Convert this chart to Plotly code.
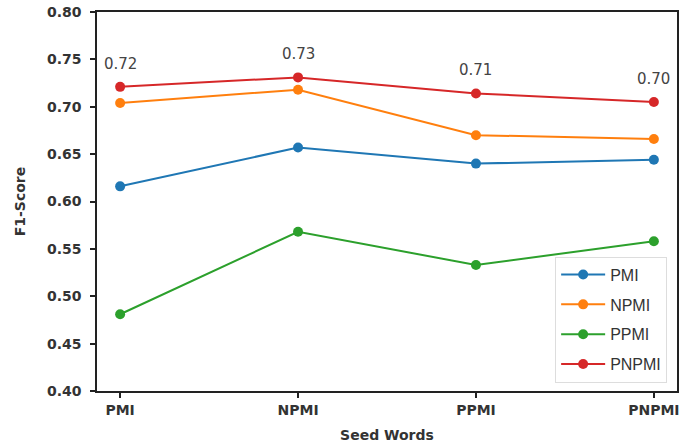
import plotly.graph_objects as go

# Seed-word weighting schemes on the x axis
seed_words = ["PMI", "NPMI", "PPMI", "PNPMI"]

# F1-scores per scoring method
pmi = [0.616, 0.657, 0.640, 0.644]
npmi = [0.704, 0.718, 0.670, 0.666]
ppmi = [0.481, 0.568, 0.533, 0.558]
pnpmi = [0.721, 0.731, 0.714, 0.705]

# Labels printed above the PNPMI line
pnpmi_labels = ["0.72", "0.73", "0.71", "0.70"]

y_ticks = [0.40, 0.45, 0.50, 0.55, 0.60, 0.65, 0.70, 0.75, 0.80]
y_tick_text = ["0.40", "0.45", "0.50", "0.55", "0.60", "0.65", "0.70", "0.75", "0.80"]

series = [
    ("PMI", pmi, "#1f77b4"),
    ("NPMI", npmi, "#ff7f0e"),
    ("PPMI", ppmi, "#2ca02c"),
    ("PNPMI", pnpmi, "#d62728"),
]

fig = go.Figure()
for name, vals, color in series:
    fig.add_trace(go.Scatter(
        x=list(range(len(seed_words))), y=vals, name=name,
        legendgroup=name,
        mode="lines+markers",
        line=dict(color=color, width=2),
        marker=dict(color=color, size=10),
    ))

for i, (v, lab) in enumerate(zip(pnpmi, pnpmi_labels)):
    fig.add_annotation(
        x=i, y=v, text=lab, showarrow=False,
        xanchor="center", yanchor="bottom", yshift=12,
        font=dict(family="DejaVu Sans", size=15, color="#444444"),
    )

axis_font = dict(family="DejaVu Sans", size=14, color="#333333", weight="bold")

fig.update_layout(
    width=684, height=446,
    margin=dict(l=97, r=7, t=12, b=55),
    plot_bgcolor="white", paper_bgcolor="white",
    showlegend=True,
    legend=dict(
        x=0.983, y=0.022, xanchor="right", yanchor="bottom",
        bgcolor="rgba(255,255,255,0.9)", bordercolor="#dddddd", borderwidth=1,
        font=dict(family="Liberation Sans", size=16, color="#333333"),
        itemwidth=44, tracegroupgap=6,
    ),
    xaxis=dict(
        range=[-0.13, 3.13], automargin=False,
        tickmode="array", tickvals=list(range(len(seed_words))), ticktext=seed_words,
        showgrid=False, zeroline=False,
        showline=True, linecolor="#222222", linewidth=1.5, mirror=True,
        ticks="outside", ticklen=5, tickwidth=1.5, tickcolor="#222222",
        tickfont=axis_font,
        title=dict(text="Seed Words", font=axis_font, standoff=14),
    ),
    yaxis=dict(
        range=[0.40, 0.80], automargin=False,
        tickmode="array", tickvals=y_ticks, ticktext=y_tick_text,
        showgrid=False, zeroline=False,
        showline=True, linecolor="#222222", linewidth=1.5, mirror=True,
        ticks="outside", ticklen=5, tickwidth=1.5, tickcolor="#222222",
        tickfont=axis_font, ticklabelstandoff=6,
        title=dict(text="F1-Score", font=axis_font, standoff=18),
    ),
)

fig.write_html("out.html")
